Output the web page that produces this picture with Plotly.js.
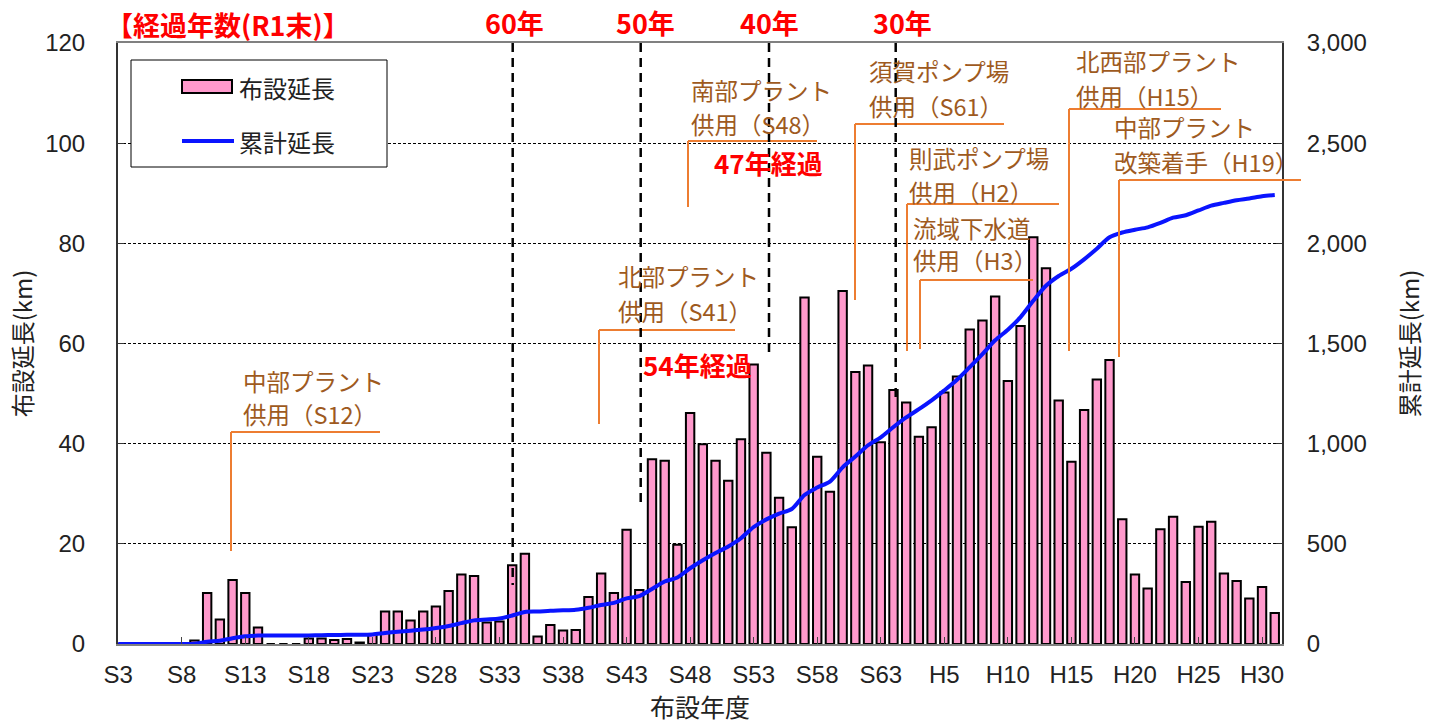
<!DOCTYPE html>
<html>
<head>
<meta charset="utf-8">
<script src="https://cdn.plot.ly/plotly-3.0.1.min.js"></script>
<style>
  html, body { margin: 0; padding: 0; background: #fff; }
  #chart { width: 1433px; height: 725px; }
</style>
</head>
<body>
<div id="chart"></div>
<script>
// ---------- data ----------
const categories = [
  'S3','S4','S5','S6','S7','S8','S9','S10','S11','S12','S13','S14','S15','S16','S17','S18','S19','S20',
  'S21','S22','S23','S24','S25','S26','S27','S28','S29','S30','S31','S32','S33','S34','S35','S36','S37','S38',
  'S39','S40','S41','S42','S43','S44','S45','S46','S47','S48','S49','S50','S51','S52','S53','S54','S55','S56',
  'S57','S58','S59','S60','S61','S62','S63',
  'H1','H2','H3','H4','H5','H6','H7','H8','H9','H10','H11','H12','H13','H14','H15','H16','H17','H18','H19',
  'H20','H21','H22','H23','H24','H25','H26','H27','H28','H29','H30','R1'
];

const tickLabels = ['S3','S8','S13','S18','S23','S28','S33','S38','S43','S48','S53','S58','S63',
  'H5','H10','H15','H20','H25','H30'];

// 布設延長 (km), one value per year
const installedKm = [
  0, 0, 0, 0, 0, 0, 0.7, 10.2, 4.9, 12.8, 10.2, 3.3, 0, 0, 0, 1.1, 1.1, 0.8,
  1.0, 0.3, 1.8, 6.5, 6.5, 4.7, 6.5, 7.5, 10.6, 13.9, 13.6, 4.3, 4.5, 15.7, 18.0, 1.5, 3.8, 2.7,
  2.8, 9.4, 14.1, 10.2, 22.8, 10.8, 36.9, 36.6, 19.8, 46.1, 39.9, 36.6, 32.6, 40.9, 55.8, 38.2, 29.2, 23.3,
  69.2, 37.4, 30.4, 70.5, 54.3, 55.6, 40.3,
  50.7, 48.2, 41.4, 43.3, 50.2, 53.4, 62.8, 64.6, 69.4, 52.5, 63.5, 81.2, 75.0, 48.6, 36.4, 46.7, 52.8, 56.7, 24.9,
  13.9, 11.1, 22.9, 25.4, 12.4, 23.4, 24.4, 14.1, 12.6, 9.1, 11.4, 6.2
];

// 累計延長 (km)
const cumulativeKm = [
  0, 0, 0, 0, 0, 0, 1, 11, 16, 29, 39, 42, 42, 42, 42, 43, 44, 45,
  46, 46, 48, 55, 61, 66, 72, 80, 90, 104, 118, 122, 127, 142, 160, 162, 166, 168,
  171, 181, 195, 205, 228, 239, 275, 312, 332, 378, 418, 454, 487, 528, 584, 622, 651, 674,
  744, 781, 811, 882, 936, 992, 1032,
  1083, 1131, 1172, 1216, 1266, 1319, 1382, 1447, 1516, 1569, 1632, 1713, 1788, 1837, 1873, 1920, 1973, 2030, 2054,
  2068, 2080, 2102, 2128, 2140, 2164, 2188, 2202, 2215, 2224, 2235, 2241
];

const seriesNames = ['布設延長', '累計延長'];

// annotation texts
const noteLines = [
  ['中部プラント', '供用（S12）'],
  ['北部プラント', '供用（S41）'],
  ['南部プラント', '供用（S48）'],
  ['須賀ポンプ場', '供用（S61）'],
  ['則武ポンプ場', '供用（H2）'],
  ['流域下水道', '供用（H3）'],
  ['北西部プラント', '供用（H15）'],
  ['中部プラント', '改築着手（H19）']
];
const ageLabels = ['60年', '50年', '40年', '30年'];
const headerLabel = '【経過年数(R1末)】';
const elapsedLabels = ['47年経過', '54年経過'];

// ---------- layout helpers (pixel -> paper) ----------
const PL = 118, PR = 1282, PT = 43, PB = 644;
const W = PR - PL, H = PB - PT;
const px = x => (x - PL) / W;
const py = y => (PB - y) / H;

const JP = '"Noto Sans CJK JP", "Noto Sans", sans-serif';
const NUM = '"Liberation Sans", Arial, sans-serif';
const BROWN = '#9E5A1E';
const ORANGE = '#ED7D31';
const RED = '#FF0000';
const BLUE = '#0A14FF';

function txt(text, x, y, opts) {
  opts = opts || {};
  return {
    xref: 'paper', yref: 'paper', x: px(x), y: py(y),
    xanchor: opts.anchor || 'left', yanchor: 'middle', showarrow: false,
    text: text,
    font: { family: JP, size: opts.size || 23.5, color: opts.color || BROWN, weight: opts.bold ? 'bold' : 'normal' }
  };
}
function seg(x0, y0, x1, y1, color, width, dash) {
  return {
    type: 'line', xref: 'paper', yref: 'paper', layer: 'above',
    x0: px(x0), y0: py(y0), x1: px(x1), y1: py(y1),
    line: { color: color, width: width, dash: dash || 'solid' }
  };
}

// positions of the note blocks: [left x, first line y, second line y]
const notePos = [
  [241, 381, 414], [616, 276, 311], [689, 90, 124], [867, 71, 106],
  [907, 158, 192], [911, 228, 260], [1074, 61, 96], [1112, 127, 162]
];
// leader lines: [corner x, corner y, horizontal end x, vertical end y]
const leaders = [
  [231, 432, 380, 551], [599, 330, 735, 424], [688, 141, 817, 207], [855, 124, 1004, 300],
  [907, 204, 1059, 351], [920, 280, 1033, 349], [1069, 109, 1221, 351], [1119, 180, 1301, 357]
];
// age guide lines: [x, bottom y, label centre x]
const ageGuides = [[512.7, 585, 514], [640.7, 508, 645], [769, 358, 769], [895.7, 400, 902]];

const annotations = [];
const shapes = [];

noteLines.forEach((lines, i) => {
  const p = notePos[i];
  annotations.push(txt(lines[0], p[0], p[1]));
  annotations.push(txt(lines[1], p[0], p[2]));
  const l = leaders[i];
  shapes.push(seg(l[0], l[1], l[2], l[1], ORANGE, 2));
  shapes.push(seg(l[0], l[1], l[0], l[3], ORANGE, 2));
});

ageGuides.forEach((g, i) => {
  shapes.push(seg(g[0], PT, g[0], g[1], '#000', 2.5, '9px,6px'));
  annotations.push(txt(ageLabels[i], g[2], 22, { anchor: 'center', color: RED, bold: true, size: 27 }));
});
annotations.push(txt(headerLabel, 104, 24, { color: RED, bold: true, size: 27 }));
annotations.push(txt(elapsedLabels[0], 768, 162, { anchor: 'center', color: RED, bold: true, size: 26 }));
annotations.push(txt(elapsedLabels[1], 697, 364, { anchor: 'center', color: RED, bold: true, size: 26 }));

// legend box (drawn)
shapes.push({ type: 'rect', xref: 'paper', yref: 'paper', layer: 'above',
  x0: px(131), y0: py(60), x1: px(387), y1: py(167),
  line: { color: '#000', width: 1 }, fillcolor: '#fff' });
shapes.push({ type: 'rect', xref: 'paper', yref: 'paper', layer: 'above',
  x0: px(182), y0: py(80), x1: px(232), y1: py(93),
  line: { color: '#000', width: 2 }, fillcolor: '#FF99CC' });
shapes.push(seg(182, 141, 234, 141, BLUE, 4));
annotations.push(txt(seriesNames[0], 237, 87, { color: '#222', size: 24 }));
annotations.push(txt(seriesNames[1], 237, 141, { color: '#222', size: 24 }));

// ---------- traces ----------
const bars = {
  type: 'bar', name: seriesNames[0], x: categories, y: installedKm,
  width: 0.66,
  marker: { color: '#FF99CC', line: { color: '#000', width: 2 } },
  yaxis: 'y'
};
const line = {
  type: 'scatter', mode: 'lines', name: seriesNames[1], x: categories, y: cumulativeKm,
  line: { color: BLUE, width: 4, shape: 'spline', smoothing: 0.8 },
  cliponaxis: false,
  yaxis: 'y2'
};

const layout = {
  width: 1433, height: 725,
  margin: { l: PL, r: 1433 - PR, t: PT, b: 725 - PB, pad: 0 },
  paper_bgcolor: '#fff', plot_bgcolor: '#fff',
  showlegend: false,
  font: { family: NUM, color: '#222' },
  xaxis: {
    type: 'category', categoryorder: 'array', categoryarray: categories,
    range: [-0.015, 91.57],
    tickmode: 'array', tickvals: tickLabels, ticktext: tickLabels,
    ticks: 'inside', ticklen: 7, tickwidth: 1, tickcolor: '#444',
    tickfont: { family: NUM, size: 24, color: '#222' },
    ticklabelstandoff: 8,
    showline: true, linecolor: '#808080', linewidth: 2, mirror: true,
    showgrid: false, zeroline: false,
    title: { text: '布設年度', font: { family: JP, size: 25, color: '#222' }, standoff: 12 }
  },
  yaxis: {
    range: [0, 120], tickmode: 'linear', tick0: 0, dtick: 20,
    ticks: 'inside', ticklen: 6, tickcolor: '#333',
    tickfont: { family: NUM, size: 24, color: '#222' },
    ticklabelstandoff: 26,
    showline: true, linecolor: '#333', linewidth: 2,
    showgrid: true, gridcolor: '#000', gridwidth: 1, griddash: '3px,2px',
    zeroline: false,
    title: { text: '布設延長(km)', font: { family: JP, size: 24, color: '#222' }, standoff: 6 }
  },
  yaxis2: {
    overlaying: 'y', side: 'right',
    range: [0, 3000], tickmode: 'linear', tick0: 0, dtick: 500, tickformat: ',d',
    ticks: 'inside', ticklen: 6, tickcolor: '#333',
    tickfont: { family: NUM, size: 24, color: '#222' },
    ticklabelstandoff: 18,
    showline: true, linecolor: '#333', linewidth: 2,
    showgrid: false, zeroline: false,
    title: { text: '累計延長(km)', font: { family: JP, size: 24, color: '#222' }, standoff: 36 }
  },
  shapes: shapes,
  annotations: annotations
};

Plotly.newPlot('chart', [bars, line], layout, { staticPlot: true, displayModeBar: false });
</script>
</body>
</html>
